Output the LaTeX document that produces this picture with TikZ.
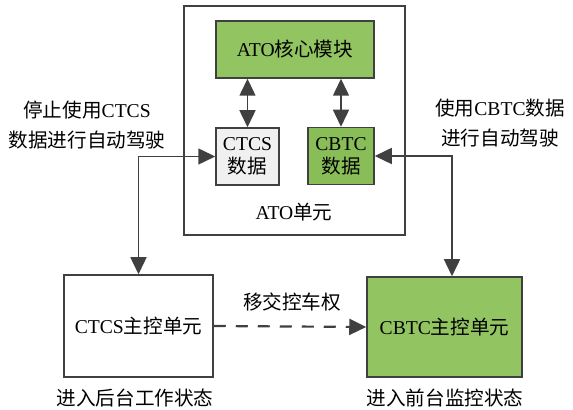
\documentclass[tikz,border=0pt]{standalone}
\usepackage{fontspec}
\setmainfont{Liberation Serif}
\newfontfamily\cjk{Noto Sans CJK SC}
\newcommand{\zh}[1]{{\cjk #1}}
\usepackage{xcolor}
\usepackage{tikz}
\usetikzlibrary{shapes,arrows,positioning,calc,arrows.meta}
\definecolor{coregreen}{RGB}{146,196,98}
\definecolor{datagreen}{RGB}{136,189,88}
\definecolor{datagray}{RGB}{240,240,240}
\definecolor{linegray}{RGB}{64,64,64}

\begin{document}
\begin{tikzpicture}[x=0.5pt, y=-0.5pt,
    ato block/.style={draw=linegray, line width=0.75pt, rectangle, align=center, inner sep=0pt, font=\fontsize{9.8}{11.5}\selectfont},
    ato label/.style={align=center, inner sep=0pt, font=\fontsize{9.8}{15}\selectfont},
    link/.style={draw=linegray, line width=0.75pt, {Triangle[length=8.5pt,width=8pt]}-{Triangle[length=8.5pt,width=8pt]}},
    handover/.style={draw=linegray, line width=1.1pt, dash pattern=on 6pt off 5pt, -{Triangle[length=8.5pt,width=8pt]}}]
    \useasboundingbox (0,0) rectangle (573,410);

    % ATO unit
    \node[ato block, minimum width=110.5pt, minimum height=114.5pt] (ato) at (294.5,120.5) {};
    \node[ato label] (atoname) at (294,212) {ATO\zh{单元}};
    \node[ato block, fill=coregreen, minimum width=79pt, minimum height=28.5pt] (core) at (295,49.5) {ATO\zh{核心模块}};
    \node[ato block, fill=datagray, minimum width=31.5pt, minimum height=28.5pt] (ctcsdata) at (247.5,156.5) {CTCS\\\zh{数据}};
    \node[ato block, fill=datagreen, minimum width=33pt, minimum height=28.5pt] (cbtcdata) at (341,156) {CBTC\\\zh{数据}};

    % main control units
    \node[ato block, minimum width=74.5pt, minimum height=51pt] (ctcsunit) at (138.5,326) {CTCS\zh{主控单元}};
    \node[ato block, fill=coregreen, minimum width=77.5pt, minimum height=50pt] (cbtcunit) at (444.5,327) {CBTC\zh{主控单元}};

    % labels
    \node[ato label] (stopctcs) at (87,125) {\zh{停止使用}CTCS\\\zh{数据进行自动驾驶}};
    \node[ato label] (usecbtc) at (500,123) {\zh{使用}CBTC\zh{数据}\\\zh{进行自动驾驶}};
    \node[ato label] (transfer) at (292,302) {\zh{移交控车权}};
    \node[ato label] (backstate) at (135,398) {\zh{进入后台工作状态}};
    \node[ato label] (frontstate) at (445,398) {\zh{进入前台监控状态}};

    \draw[link] (core.south -| ctcsdata.north) -- (ctcsdata.north);
    \draw[link] (core.south -| cbtcdata.north) -- (cbtcdata.north);
    \draw[link] (ctcsdata.west) -| (ctcsunit.north);
    \draw[link] (cbtcdata.east) -| ([xshift=3.75pt]cbtcunit.north);
    \draw[handover] (ctcsunit.east) -- (cbtcunit.west);

\end{tikzpicture}
\end{document}
